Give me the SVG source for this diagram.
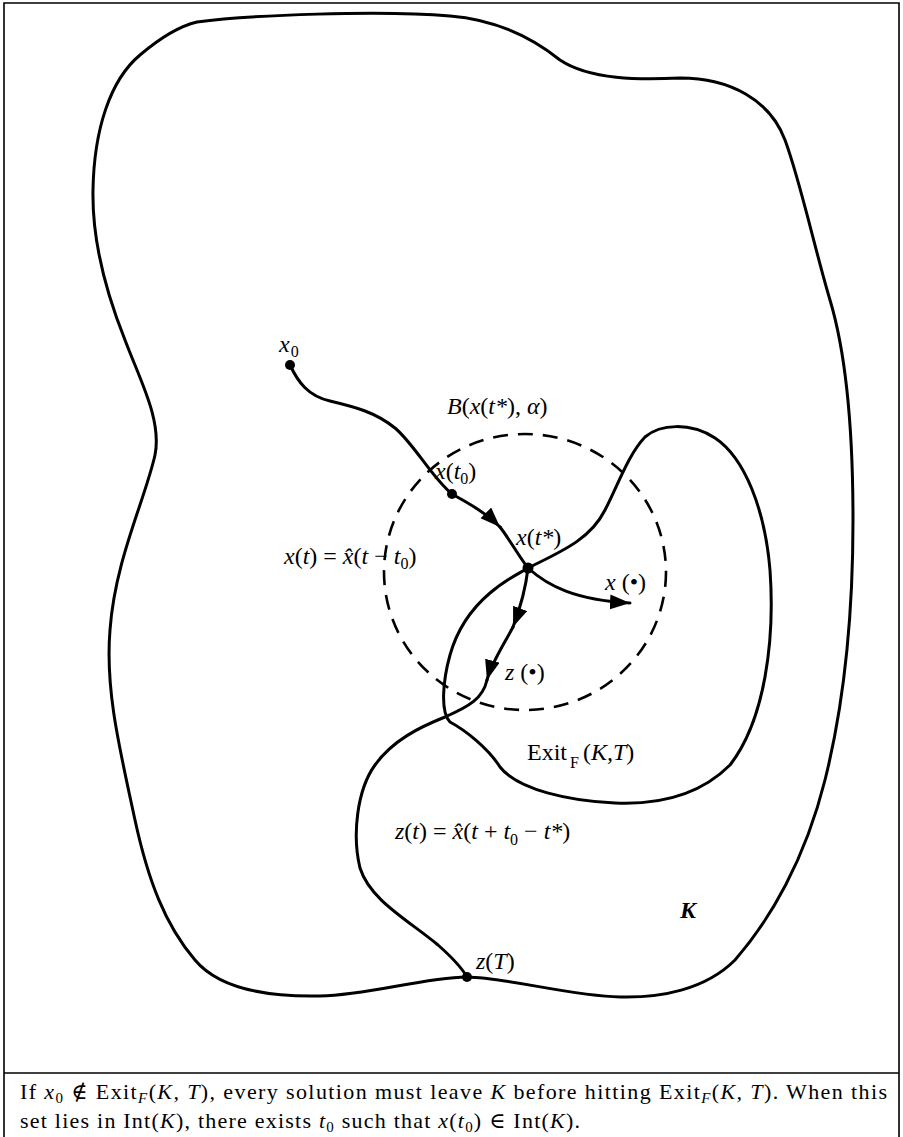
<svg xmlns="http://www.w3.org/2000/svg" width="903" height="1137" viewBox="0 0 903 1137">
<style>
.frame{fill:none;stroke:#000;stroke-width:1.6}
.curve{fill:none;stroke:#000;stroke-width:3;stroke-linecap:round;stroke-linejoin:round}
.dash{fill:none;stroke:#000;stroke-width:2.6;stroke-dasharray:15 10}
.lbl{font-family:"Liberation Serif","Times New Roman",serif;font-style:italic;font-size:24px;fill:#000}
.up{font-style:normal}
.sub{font-size:16px;font-style:normal}
.cap{font-family:"Liberation Serif","DejaVu Serif",serif;font-size:22px;fill:#000}
.it{font-style:italic}
.dot{fill:#000}
</style>
<defs>
<marker id="ah" markerUnits="userSpaceOnUse" markerWidth="22" markerHeight="16" refX="20" refY="7.5" orient="auto">
<path d="M0,0 L20,7.5 L0,15 Z" fill="#000"/>
</marker>
</defs>
<g id="frame">
<path class="frame" d="M4,1137 V3 H899 V1137"/>
<line class="frame" x1="4" y1="1073" x2="899" y2="1073"/>
</g>
<g id="set-K">
<path class="curve" d="M197,22 C250,15 380,10 450,16 C500,20 535,40 560,60 C590,80 640,80 680,78 C730,78 770,100 785,140 C800,180 815,250 830,300 C848,360 853,440 853,520 C853,610 845,700 825,780 C805,860 770,920 735,960 C705,990 660,998 620,997 C570,996 510,978 467,977 C420,978 370,995 320,996 C270,997 220,990 195,960 C165,925 148,880 135,820 C120,750 105,690 110,630 C115,560 145,500 155,455 C162,420 140,380 125,340 C105,290 92,240 93,190 C94,130 110,80 140,55 C160,38 180,26 197,22 Z"/>
<text class="lbl" x="680" y="918" font-weight="bold">K</text>
</g>
<g id="exit-set">
<path class="curve" d="M528,568 C560,552 590,540 605,510 C618,485 628,455 645,437 C660,424 690,422 715,438 C745,458 765,510 770,570 C775,640 765,720 730,765 C700,795 660,805 615,803 C570,801 518,790 500,767 C488,748 465,730 450,722 C440,712 443,680 450,655 C457,630 470,610 490,593 C505,580 518,574 528,568 Z"/>
<text class="lbl" x="527" y="760"><tspan class="up">Exit</tspan><tspan class="sub" dx="3" dy="8" font-style="italic">F</tspan><tspan dx="4" dy="-8" class="up">(</tspan>K,T<tspan class="up">)</tspan></text>
</g>
<g id="ball">
<ellipse class="dash" cx="525" cy="572" rx="141" ry="138"/>
<text class="lbl" x="447" y="414">B<tspan class="up">(</tspan>x<tspan class="up">(</tspan>t*<tspan class="up">),</tspan> α<tspan class="up">)</tspan></text>
</g>
<g id="connectors">
<path class="curve" d="M290,365 C298,382 308,396 330,401 C355,407 375,412 395,428 C415,445 432,478 452,494"/>
<path class="curve" d="M452,494 C468,503 485,512 500,527" marker-end="url(#ah)"/>
<path class="curve" d="M500,527 C510,540 518,555 528,568"/>
<path class="curve" d="M528,568 C548,586 575,600 630,603" marker-end="url(#ah)"/>
<path class="curve" d="M528,568 C526,586 521,606 513,627" marker-end="url(#ah)"/>
<path class="curve" d="M513,627 C503,646 492,662 487,680" marker-end="url(#ah)"/>
<path class="curve" d="M487,680 C483,698 470,706 445,717 C420,727 393,740 375,765 C357,790 352,835 360,868 C370,900 408,920 438,945 C455,960 463,970 467,977"/>
</g>
<g id="x0">
<circle class="dot" cx="290" cy="365" r="5"/>
<text class="lbl" x="279" y="352">x<tspan class="sub" dx="1" dy="5">0</tspan></text>
</g>
<g id="xt0">
<circle class="dot" cx="452" cy="494" r="5"/>
<text class="lbl" x="435" y="479">x<tspan class="up">(</tspan>t<tspan class="sub" dy="5">0</tspan><tspan class="up" dy="-5">)</tspan></text>
</g>
<g id="xtstar">
<circle class="dot" cx="528" cy="568" r="5.5"/>
<text class="lbl" x="516" y="545">x<tspan class="up">(</tspan>t*<tspan class="up">)</tspan></text>
</g>
<g id="labels">
<text class="lbl" x="284" y="564">x<tspan class="up">(</tspan>t<tspan class="up">) = </tspan>x̂<tspan class="up">(</tspan>t <tspan class="up">−</tspan> t<tspan class="sub" dy="5">0</tspan><tspan class="up" dy="-5">)</tspan></text>
<text class="lbl" x="605" y="590">x <tspan class="up">(•)</tspan></text>
<text class="lbl" x="505" y="680">z <tspan class="up">(•)</tspan></text>
<text class="lbl" x="395" y="839">z<tspan class="up">(</tspan>t<tspan class="up">) =  </tspan>x̂<tspan class="up">(</tspan>t <tspan class="up">+</tspan> t<tspan class="sub" dy="6">0</tspan><tspan class="up" dy="-6"> − </tspan>t*<tspan class="up">)</tspan></text>
</g>
<g id="zT">
<circle class="dot" cx="467" cy="977" r="5"/>
<text class="lbl" x="476" y="969">z<tspan class="up">(</tspan>T<tspan class="up">)</tspan></text>
</g>
<g id="caption">
<text class="cap" x="20" y="1099" textLength="867" lengthAdjust="spacing">If <tspan class="it">x</tspan><tspan font-size="15" dy="4">0</tspan><tspan dy="-4"> ∉ Exit</tspan><tspan class="it" font-size="15" dy="4">F</tspan><tspan dy="-4">(</tspan><tspan class="it">K, T</tspan>), every solution must leave <tspan class="it">K</tspan> before hitting Exit<tspan class="it" font-size="15" dy="4">F</tspan><tspan dy="-4">(</tspan><tspan class="it">K, T</tspan>). When this</text>
<text class="cap" x="20" y="1128" textLength="560" lengthAdjust="spacing">set lies in Int(<tspan class="it">K</tspan>), there exists <tspan class="it">t</tspan><tspan font-size="15" dy="4">0</tspan><tspan dy="-4"> such that </tspan><tspan class="it">x</tspan>(<tspan class="it">t</tspan><tspan font-size="15" dy="4">0</tspan><tspan dy="-4">) ∈ Int(</tspan><tspan class="it">K</tspan>).</text>
</g>
</svg>
